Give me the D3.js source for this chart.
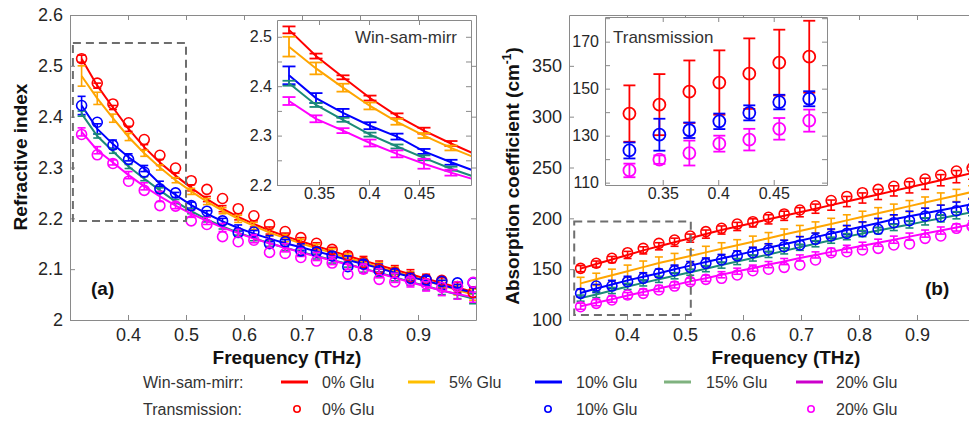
<!DOCTYPE html>
<html>
<head>
<meta charset="utf-8">
<script src="https://cdn.jsdelivr.net/npm/d3@7"></script>
<style>
body { margin: 0; background: #fff; }
svg { font-family: "Liberation Sans", Arial, sans-serif; }
</style>
</head>
<body>
<svg id="fig" width="969" height="430"></svg>
<script>
// frequency grid (THz)
var freq = [0.320, 0.347, 0.374, 0.401, 0.428, 0.455, 0.482, 0.509, 0.536, 0.563, 0.590, 0.617, 0.644,
            0.671, 0.698, 0.725, 0.752, 0.779, 0.806, 0.833, 0.860, 0.887, 0.914, 0.941, 0.968, 0.995];

var glu = ["0% Glu", "5% Glu", "10% Glu", "15% Glu", "20% Glu"];

// refractive index, win-sam-mirr
var nWs0  = [2.514, 2.461, 2.418, 2.376, 2.340, 2.310, 2.284, 2.260, 2.238, 2.219, 2.203, 2.189, 2.176, 2.165, 2.155, 2.145, 2.136, 2.126, 2.117, 2.108, 2.099, 2.090, 2.081, 2.073, 2.064, 2.055];
var nWs5  = [2.480, 2.436, 2.397, 2.360, 2.328, 2.300, 2.275, 2.253, 2.233, 2.215, 2.199, 2.185, 2.172, 2.161, 2.151, 2.141, 2.132, 2.122, 2.113, 2.104, 2.095, 2.086, 2.077, 2.068, 2.059, 2.050];
var nWs10 = [2.422, 2.376, 2.346, 2.320, 2.298, 2.268, 2.246, 2.226, 2.209, 2.194, 2.181, 2.170, 2.160, 2.151, 2.143, 2.135, 2.127, 2.118, 2.110, 2.102, 2.093, 2.085, 2.077, 2.069, 2.061, 2.054];
var nWs15 = [2.406, 2.362, 2.332, 2.302, 2.278, 2.255, 2.233, 2.214, 2.198, 2.184, 2.172, 2.161, 2.151, 2.142, 2.134, 2.126, 2.118, 2.110, 2.101, 2.093, 2.084, 2.075, 2.067, 2.058, 2.050, 2.042];
var nWs20 = [2.370, 2.334, 2.310, 2.285, 2.263, 2.243, 2.225, 2.209, 2.195, 2.182, 2.171, 2.160, 2.151, 2.142, 2.133, 2.125, 2.117, 2.109, 2.101, 2.092, 2.083, 2.074, 2.066, 2.058, 2.051, 2.045];

var nErr0  = [0.007, 0.005, 0.004, 0.005, 0.005, 0.006, 0.005, 0.006, 0.005, 0.006, 0.006, 0.006, 0.007, 0.006, 0.007, 0.007, 0.007, 0.008, 0.008, 0.008, 0.008, 0.009, 0.009, 0.010, 0.010, 0.010];
var nErr5  = [0.020, 0.012, 0.008, 0.007, 0.006, 0.005, 0.005, 0.006, 0.006, 0.006, 0.007, 0.007, 0.007, 0.007, 0.008, 0.008, 0.008, 0.008, 0.009, 0.009, 0.009, 0.009, 0.010, 0.010, 0.010, 0.011];
var nErr10 = [0.018, 0.010, 0.008, 0.007, 0.006, 0.005, 0.005, 0.006, 0.006, 0.006, 0.006, 0.006, 0.006, 0.007, 0.007, 0.007, 0.007, 0.008, 0.008, 0.008, 0.008, 0.008, 0.009, 0.009, 0.009, 0.010];
var nErr15 = [0.005, 0.004, 0.004, 0.004, 0.004, 0.005, 0.004, 0.005, 0.005, 0.005, 0.005, 0.005, 0.006, 0.006, 0.006, 0.006, 0.006, 0.006, 0.007, 0.007, 0.007, 0.007, 0.008, 0.008, 0.008, 0.010];
var nErr20 = [0.008, 0.007, 0.005, 0.007, 0.007, 0.010, 0.006, 0.007, 0.007, 0.008, 0.008, 0.008, 0.008, 0.008, 0.008, 0.008, 0.008, 0.009, 0.009, 0.009, 0.009, 0.009, 0.009, 0.010, 0.010, 0.010];

// refractive index, transmission
var nTr0  = [2.514, 2.466, 2.425, 2.388, 2.355, 2.324, 2.299, 2.274, 2.257, 2.239, 2.219, 2.205, 2.188, 2.174, 2.162, 2.151, 2.139, 2.127, 2.113, 2.100, 2.094, 2.084, 2.080, 2.078, 2.066, 2.054];
var nTr10 = [2.422, 2.389, 2.344, 2.316, 2.291, 2.258, 2.250, 2.225, 2.214, 2.195, 2.172, 2.173, 2.150, 2.154, 2.136, 2.134, 2.126, 2.105, 2.110, 2.097, 2.092, 2.082, 2.079, 2.076, 2.073, 2.073];
var nTr20 = [2.365, 2.325, 2.308, 2.273, 2.255, 2.225, 2.224, 2.195, 2.188, 2.164, 2.154, 2.157, 2.133, 2.131, 2.123, 2.116, 2.112, 2.090, 2.100, 2.080, 2.075, 2.077, 2.071, 2.064, 2.066, 2.074];

// absorption coefficient (cm-1), win-sam-mirr
var aWs0  = [150.5, 155.0, 159.5, 164.0, 168.5, 172.5, 176.5, 180.5, 184.5, 188.5, 192.0, 195.5, 199.0, 202.5, 206.0, 209.5, 213.0, 216.5, 220.0, 223.5, 227.0, 230.5, 234.0, 237.5, 241.0, 244.5];
var aWs5  = [136.0, 140.0, 144.0, 148.0, 152.0, 156.0, 159.5, 163.0, 166.5, 170.0, 173.5, 177.0, 180.5, 184.0, 187.5, 191.0, 194.5, 198.0, 201.5, 205.0, 208.5, 212.0, 215.5, 219.0, 222.5, 226.0];
var aWs10 = [126.5, 131.0, 135.0, 139.0, 142.5, 146.0, 150.0, 153.5, 157.0, 160.5, 164.0, 167.5, 171.0, 174.5, 178.0, 181.5, 185.0, 188.5, 192.0, 195.5, 199.0, 202.0, 205.0, 208.0, 211.0, 214.0];
var aWs15 = [121.5, 125.0, 129.0, 133.0, 136.5, 140.0, 143.5, 147.0, 150.5, 154.0, 157.5, 161.0, 164.5, 168.0, 171.5, 175.0, 178.5, 182.0, 185.0, 188.0, 191.0, 194.0, 197.0, 200.0, 203.0, 206.0];
var aWs20 = [113.5, 117.0, 120.5, 124.0, 127.5, 131.0, 134.5, 138.0, 141.0, 144.5, 148.0, 151.0, 154.5, 157.5, 161.0, 164.0, 167.0, 170.0, 173.0, 176.0, 179.0, 182.0, 185.0, 188.0, 191.0, 194.0];

var aErr0  = [3, 3, 3, 3.5, 3.5, 3.5, 4, 4, 4, 4, 4, 4, 4.5, 4.5, 4.5, 4.5, 5, 5, 5, 5, 5, 5.5, 5.5, 5.5, 6, 6];
var aErr5  = [6, 6, 6, 6, 6, 6, 6, 6, 6, 6, 5.5, 5.5, 5.5, 5.5, 5.5, 5.5, 5.5, 5.5, 5.5, 5.5, 5.5, 5.5, 5.5, 6, 6, 6];
var aErr10 = [4, 4, 4, 4, 4, 4, 4, 4, 4, 4, 4, 4, 4, 4, 4, 4, 4.5, 4.5, 4.5, 4.5, 4.5, 5, 5, 5, 5, 5];
var aErr15 = [3, 3, 3, 3, 3, 3, 3, 3, 3, 3, 3, 3, 3, 3, 3, 3, 3, 3, 3, 3, 3, 3.5, 3.5, 3.5, 3.5, 3.5];
var aErr20 = [3, 3, 3, 3, 3, 3, 3, 3, 3, 3, 3, 3, 3, 3, 3, 3, 3.5, 3.5, 3.5, 3.5, 3.5, 3.5, 3.5, 3.5, 3.5, 3.5];

// absorption coefficient, transmission
var aTr0  = [150.8, 155.8, 160.7, 166.2, 170.5, 175.4, 178.7, 182.6, 186.9, 190.2, 194.4, 196.7, 201.0, 204.3, 208.2, 212.4, 217.5, 221.5, 225.2, 228.5, 231.5, 234.7, 238.7, 242.6, 246.5, 249.5];
var aTr10 = [126.2, 133.4, 133.4, 137.7, 141.0, 146.0, 148.5, 151.8, 155.7, 159.0, 163.0, 166.2, 168.9, 172.1, 173.8, 179.4, 182.6, 185.2, 186.9, 189.2, 195.7, 197.7, 202.3, 201.6, 207.5, 210.0];
var aTr20 = [113.1, 116.4, 119.7, 124.6, 126.2, 129.5, 133.4, 137.7, 140.0, 141.0, 144.3, 148.5, 149.9, 151.8, 154.1, 159.0, 166.2, 167.2, 168.9, 170.5, 173.8, 174.8, 180.3, 182.6, 190.2, 192.0];

// inset (b): transmission with error bars, first 7 frequencies
var insTr0     = [139.4, 143.2, 148.7, 152.6, 156.4, 161.1, 163.6];
var insTr0Err  = [12.0, 13.0, 13.3, 13.7, 15.0, 14.0, 15.3];
var insTr10    = [123.7, 130.4, 132.3, 136.1, 139.7, 144.3, 145.7];
var insTr10Err = [3.4, 6.8, 3.3, 3.3, 3.2, 3.1, 3.2];
var insTr20    = [115.2, 119.8, 122.6, 126.6, 128.3, 132.9, 136.4];
var insTr20Err = [2.9, 1.8, 5.3, 3.4, 4.6, 4.6, 4.7];

// ticks
var mainXTicks = [0.4, 0.5, 0.6, 0.7, 0.8, 0.9];
var nYTicks = [2.0, 2.1, 2.2, 2.3, 2.4, 2.5, 2.6];
var aYTicks = [100, 150, 200, 250, 300, 350];
var insAXTicks = [0.35, 0.4, 0.45];
var insAYTicks = [2.2, 2.25, 2.3, 2.35, 2.4, 2.45, 2.5];
var insAYLabels = [2.2, 2.3, 2.4, 2.5];
var insBXTicks = [0.35, 0.4, 0.45];
var insBYTicks = [110, 120, 130, 140, 150, 160, 170, 180];
var insBYLabels = [110, 130, 150, 170];

var colWs = ["#ff0000", "#ffa500", "#0000ff", "#1b8a78", "#ff00ff"];
var colTr = ["#ff0000", "#0000ff", "#ff00ff"];
var axisGrey = "#8a8a8a";
var textCol = "#262626";

var svg = d3.select("#fig");
var defs = svg.append("defs");

var xa = d3.scaleLinear().domain([0.3, 1.0]).range([70, 476]);
var ya = d3.scaleLinear().domain([2.0, 2.6]).range([320, 15]);
var xb = d3.scaleLinear().domain([0.3, 1.0]).range([569, 975]);
var yb = d3.scaleLinear().domain([100, 400]).range([320, 15]);
var xia = d3.scaleLinear().domain([0.308, 0.502]).range([277, 471]);
var yia = d3.scaleLinear().domain([2.2, 2.534]).range([185, 20]);
var xib = d3.scaleLinear().domain([0.298, 0.498]).range([605, 827]);
var yib = d3.scaleLinear().domain([109, 180.5]).range([185, 17]);

function addClip(id, x, y) {
    defs.append("clipPath").attr("id", id).append("rect")
        .attr("x", x.range()[0]).attr("y", y.range()[1])
        .attr("width", x.range()[1] - x.range()[0])
        .attr("height", y.range()[0] - y.range()[1]);
}
addClip("clipA", xa, ya);
addClip("clipB", xb, yb);
addClip("clipIA", xia, yia);
addClip("clipIB", xib, yib);

var fmt = d3.format("~g");

// box + inward ticks, matlab style
function drawFrame(g, x, y, xt, yt, ylab, fs, padX, padY) {
    var x0 = x.range()[0], x1 = x.range()[1], y0 = y.range()[0], y1 = y.range()[1];
    var gb = g.append("g").attr("transform", "translate(0," + y0 + ")")
        .call(d3.axisBottom(x).tickValues(xt).tickSize(-5).tickSizeOuter(0).tickPadding(padX).tickFormat(fmt));
    var gt = g.append("g").attr("transform", "translate(0," + y1 + ")")
        .call(d3.axisTop(x).tickValues(xt).tickSize(-5).tickSizeOuter(0).tickFormat(""));
    var gl = g.append("g").attr("transform", "translate(" + x0 + ",0)")
        .call(d3.axisLeft(y).tickValues(yt).tickSize(-5).tickSizeOuter(0).tickPadding(padY)
            .tickFormat(function (d) { return ylab.indexOf(d) >= 0 ? fmt(d) : ""; }));
    var gr = g.append("g").attr("transform", "translate(" + x1 + ",0)")
        .call(d3.axisRight(y).tickValues(yt).tickSize(-5).tickSizeOuter(0).tickFormat(""));
    [gb, gt, gl, gr].forEach(function (a) {
        a.attr("font-family", null).attr("font-size", fs);
        a.selectAll("path.domain").attr("stroke", axisGrey);
        a.selectAll(".tick line").attr("stroke", axisGrey);
        a.selectAll("text").attr("fill", textCol);
    });
}

function drawLine(g, x, y, xs, ys, color, w) {
    var line = d3.line().x(function (d, i) { return x(xs[i]); }).y(function (d) { return y(d); });
    g.append("path").datum(ys).attr("d", line).attr("fill", "none")
        .attr("stroke", color).attr("stroke-width", w);
}

function drawErr(g, x, y, xs, ys, es, color, cap, w) {
    var eb = g.append("g").attr("stroke", color).attr("stroke-width", w).attr("fill", "none");
    ys.forEach(function (v, i) {
        var cx = x(xs[i]), top = y(v + es[i]), bot = y(v - es[i]);
        eb.append("line").attr("x1", cx).attr("x2", cx).attr("y1", top).attr("y2", bot);
        eb.append("line").attr("x1", cx - cap).attr("x2", cx + cap).attr("y1", top).attr("y2", top);
        eb.append("line").attr("x1", cx - cap).attr("x2", cx + cap).attr("y1", bot).attr("y2", bot);
    });
}

function drawCircles(g, x, y, xs, ys, color, r, w) {
    g.append("g").selectAll("circle").data(ys).enter().append("circle")
        .attr("cx", function (d, i) { return x(xs[i]); })
        .attr("cy", function (d) { return y(d); })
        .attr("r", r).attr("fill", "none").attr("stroke", color).attr("stroke-width", w);
}

function dashedBox(g, x, y, x0, x1, y0, y1) {
    g.append("rect").attr("x", x(x0)).attr("y", y(y1))
        .attr("width", x(x1) - x(x0)).attr("height", y(y0) - y(y1))
        .attr("fill", "none").attr("stroke", "#6e6e6e").attr("stroke-width", 2)
        .attr("stroke-dasharray", "8,5");
}

// ---------- panel (a) ----------
var nWs = [nWs0, nWs5, nWs10, nWs15, nWs20];
var nErr = [nErr0, nErr5, nErr10, nErr15, nErr20];
var nTr = [nTr0, nTr10, nTr20];

var pa = svg.append("g");
var pad = pa.append("g").attr("clip-path", "url(#clipA)");
nWs.forEach(function (s, k) {
    drawLine(pad, xa, ya, freq, s, colWs[k], 2);
    drawErr(pad, xa, ya, freq, s, nErr[k], colWs[k], 4, 1.6);
});
nTr.forEach(function (s, k) {
    drawCircles(pad, xa, ya, freq, s, colTr[k], 5, 1.6);
});
drawFrame(pa, xa, ya, mainXTicks, nYTicks, nYTicks, 18, 8, 7);
dashedBox(pa, xa, ya, 0.305, 0.5, 2.195, 2.545);

pa.append("text").attr("x", 287).attr("y", 364).attr("text-anchor", "middle")
    .attr("font-size", 19).attr("font-weight", "bold").attr("fill", "#111").text("Frequency (THz)");
pa.append("text").attr("transform", "translate(27,157) rotate(-90)").attr("text-anchor", "middle")
    .attr("font-size", 19).attr("font-weight", "bold").attr("fill", "#111").text("Refractive index");
pa.append("text").attr("x", 91).attr("y", 295).attr("font-size", 19).attr("font-weight", "bold")
    .attr("fill", "#111").text("(a)");

// inset (a)
var ia = svg.append("g");
ia.append("rect").attr("x", 277).attr("y", 20).attr("width", 194).attr("height", 165).attr("fill", "#fff");
var iad = ia.append("g").attr("clip-path", "url(#clipIA)");
nWs.forEach(function (s, k) {
    drawLine(iad, xia, yia, freq, s, colWs[k], 2);
    drawErr(iad, xia, yia, freq.slice(0, 7), s.slice(0, 7), nErr[k].slice(0, 7), colWs[k], 6.5, 1.8);
});
drawFrame(ia, xia, yia, insAXTicks, insAYTicks, insAYLabels, 16, 3, 5);
ia.append("text").attr("x", 355).attr("y", 43).attr("font-size", 17).attr("fill", "#333").text("Win-sam-mirr");

// ---------- panel (b) ----------
var aWs = [aWs0, aWs5, aWs10, aWs15, aWs20];
var aErr = [aErr0, aErr5, aErr10, aErr15, aErr20];
var aTr = [aTr0, aTr10, aTr20];

var pb = svg.append("g");
var pbd = pb.append("g").attr("clip-path", "url(#clipB)");
aWs.forEach(function (s, k) {
    drawLine(pbd, xb, yb, freq, s, colWs[k], 2);
    drawErr(pbd, xb, yb, freq, s, aErr[k], colWs[k], 4, 1.6);
});
aTr.forEach(function (s, k) {
    drawCircles(pbd, xb, yb, freq, s, colTr[k], 5, 1.6);
});
drawFrame(pb, xb, yb, mainXTicks, aYTicks, aYTicks, 18, 8, 7);
dashedBox(pb, xb, yb, 0.309, 0.51, 105, 197);

pb.append("text").attr("x", 786).attr("y", 364).attr("text-anchor", "middle")
    .attr("font-size", 19).attr("font-weight", "bold").attr("fill", "#111").text("Frequency (THz)");
var yt = pb.append("text").attr("transform", "translate(519,176) rotate(-90)").attr("text-anchor", "middle")
    .attr("font-size", 19).attr("font-weight", "bold").attr("fill", "#111");
yt.append("tspan").text("Absorption coefficient (cm");
yt.append("tspan").attr("font-size", 12).attr("dy", -8).text("-1");
yt.append("tspan").attr("dy", 8).text(")");
pb.append("text").attr("x", 925).attr("y", 295).attr("font-size", 19).attr("font-weight", "bold")
    .attr("fill", "#111").text("(b)");

// inset (b)
var ib = svg.append("g");
ib.append("rect").attr("x", 605).attr("y", 17).attr("width", 222).attr("height", 168).attr("fill", "#fff");
var ibd = ib.append("g").attr("clip-path", "url(#clipIB)");
var insX = freq.slice(0, 7);
drawErr(ibd, xib, yib, insX, insTr0, insTr0Err, colTr[0], 6, 1.8);
drawCircles(ibd, xib, yib, insX, insTr0, colTr[0], 6, 1.8);
drawErr(ibd, xib, yib, insX, insTr10, insTr10Err, colTr[1], 6, 1.8);
drawCircles(ibd, xib, yib, insX, insTr10, colTr[1], 6, 1.8);
drawErr(ibd, xib, yib, insX, insTr20, insTr20Err, colTr[2], 6, 1.8);
drawCircles(ibd, xib, yib, insX, insTr20, colTr[2], 6, 1.8);
drawFrame(ib, xib, yib, insBXTicks, insBYTicks, insBYLabels, 16, 3, 6);
ib.append("text").attr("x", 613).attr("y", 43).attr("font-size", 17).attr("fill", "#333").text("Transmission");

// ---------- legend ----------
var lg = svg.append("g").attr("font-size", 16).attr("fill", "#333");
var legLineX = [281, 408, 535, 664, 796];
var legTextX = [322, 449, 576, 706, 836];
var legLineCol = ["#ff0000", "#ffbf00", "#0000ff", "#7fb27f", "#cc00cc"];
var row1 = 382, row2 = 409;
lg.append("text").attr("x", 143).attr("y", row1 + 6).text("Win-sam-mirr:");
lg.append("text").attr("x", 143).attr("y", row2 + 6).text("Transmission:");
glu.forEach(function (name, k) {
    lg.append("line").attr("x1", legLineX[k]).attr("x2", legLineX[k] + 27)
        .attr("y1", row1).attr("y2", row1).attr("stroke", legLineCol[k]).attr("stroke-width", 3);
    lg.append("text").attr("x", legTextX[k]).attr("y", row1 + 6).text(name);
});
var trIdx = [0, 2, 4];
var legCircX = [297, 548, 811];
trIdx.forEach(function (k, j) {
    lg.append("circle").attr("cx", legCircX[j]).attr("cy", row2).attr("r", 3.2)
        .attr("fill", "none").attr("stroke", colTr[j]).attr("stroke-width", 1.6);
    lg.append("text").attr("x", legTextX[k]).attr("y", row2 + 6).text(glu[k]);
});
</script>
</body>
</html>
